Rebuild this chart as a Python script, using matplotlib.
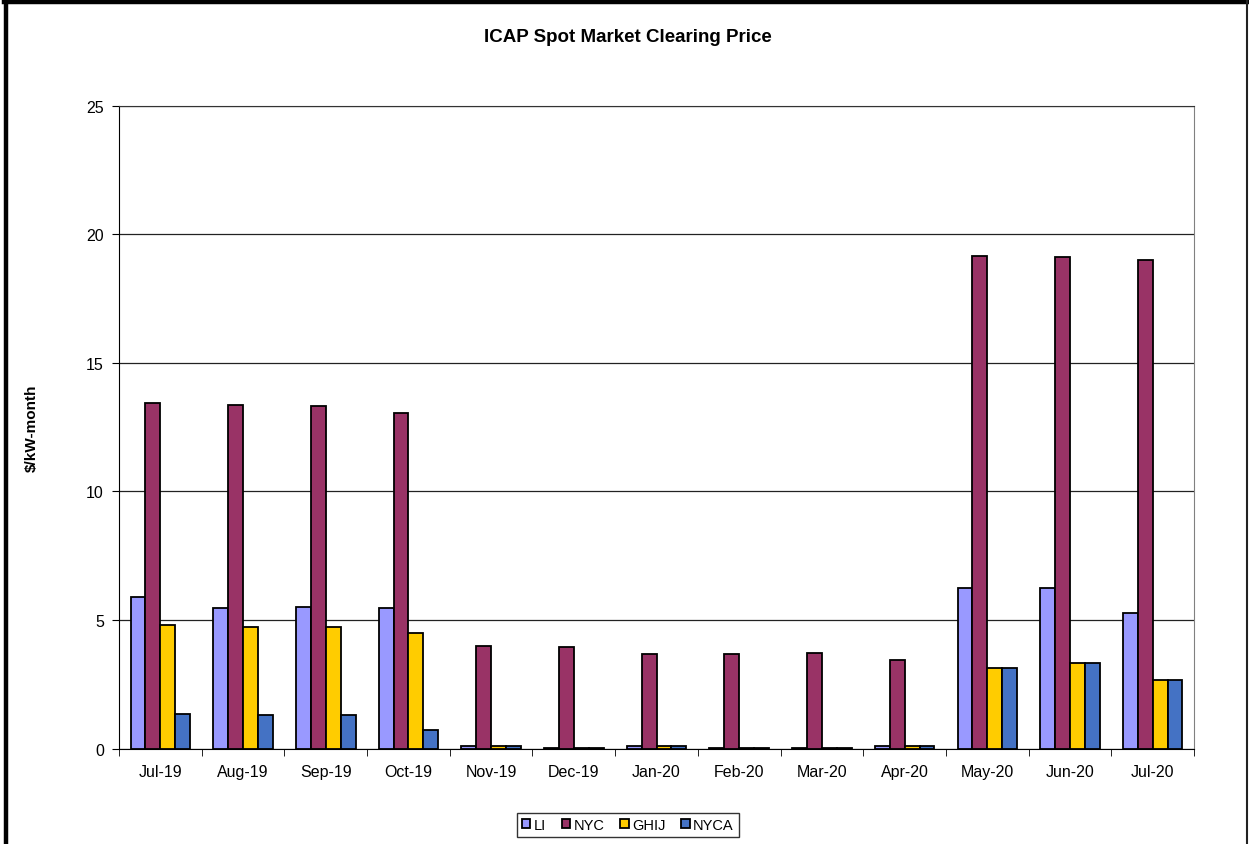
import numpy as np
import matplotlib.pyplot as plt
from matplotlib.lines import Line2D

plt.rcParams['font.family'] = ['Liberation Sans', 'DejaVu Sans']

# monthly clearing prices ($/kW-month)
months = ['Jul-19', 'Aug-19', 'Sep-19', 'Oct-19', 'Nov-19', 'Dec-19', 'Jan-20',
          'Feb-20', 'Mar-20', 'Apr-20', 'May-20', 'Jun-20', 'Jul-20']
li = [5.90, 5.46, 5.49, 5.46, 0.09, 0.03, 0.09, 0.02, 0.01, 0.09, 6.25, 6.25, 5.29]
nyc = [13.43, 13.36, 13.32, 13.05, 4.00, 3.96, 3.69, 3.69, 3.70, 3.46, 19.15, 19.11, 19.00]
ghij = [4.79, 4.74, 4.74, 4.48, 0.09, 0.03, 0.09, 0.02, 0.01, 0.09, 3.12, 3.31, 2.65]
nyca = [1.35, 1.32, 1.31, 0.71, 0.09, 0.03, 0.09, 0.02, 0.01, 0.09, 3.12, 3.31, 2.65]

series = [('LI', li, '#9999FF'), ('NYC', nyc, '#993366'),
          ('GHIJ', ghij, '#FFCC00'), ('NYCA', nyca, '#4472C4')]

fig = plt.figure(figsize=(12.49, 8.45), dpi=100)
ax = fig.add_axes([0.0953, 0.113, 0.8607, 0.7604])

x = np.arange(len(months))
w = 0.18
for i, (name, vals, col) in enumerate(series):
    ax.bar(x + (i - 1.5) * w, vals, w, color=col, edgecolor='black',
           linewidth=1.3, label=name, zorder=3)

ax.set_xlim(-0.5, len(months) - 0.5)
ax.set_ylim(0, 25)
ax.set_yticks(range(0, 26, 5))
ax.yaxis.grid(True, color='#222222', linewidth=0.9, zorder=0)

ax.set_xticks(x)
ax.set_xticklabels(months, fontsize=11.5)
ax.set_xticks(np.arange(-0.5, len(months), 1), minor=True)
ax.tick_params(axis='x', which='major', length=0, pad=11)
ax.tick_params(axis='x', which='minor', length=5, direction='out', color='black')
ax.tick_params(axis='y', length=5, direction='out', labelsize=11.5, pad=6)

ax.spines['left'].set_color('black')
ax.spines['bottom'].set_color('black')
ax.spines['top'].set_color('#333333')
ax.spines['right'].set_color('#808080')

ax.set_ylabel('$/kW-month', fontsize=11, fontweight='bold', labelpad=34)
fig.text(0.503, 0.956, 'ICAP Spot Market Clearing Price', ha='center', va='center',
         fontsize=13.5, fontweight='bold')

leg = fig.legend(loc='center', bbox_to_anchor=(0.5025, 0.0225), ncol=4, fontsize=10.5,
                 frameon=True, fancybox=False, edgecolor='black', handlelength=0.6,
                 handleheight=0.6, handletextpad=0.2, columnspacing=1.1,
                 borderpad=0.35)
leg.get_frame().set_linewidth(1.0)

# chart area border
fig.add_artist(Line2D([0.0045, 0.0045], [0, 0.998], color='black', linewidth=3.2,
                      transform=fig.transFigure))
fig.add_artist(Line2D([0.003, 1.0], [0.9965, 0.9965], color='black', linewidth=3.2,
                      transform=fig.transFigure))
fig.add_artist(Line2D([0.9985, 0.9985], [0, 0.998], color='#222222', linewidth=1.5,
                      transform=fig.transFigure))

fig.savefig('out.png', dpi=100)
